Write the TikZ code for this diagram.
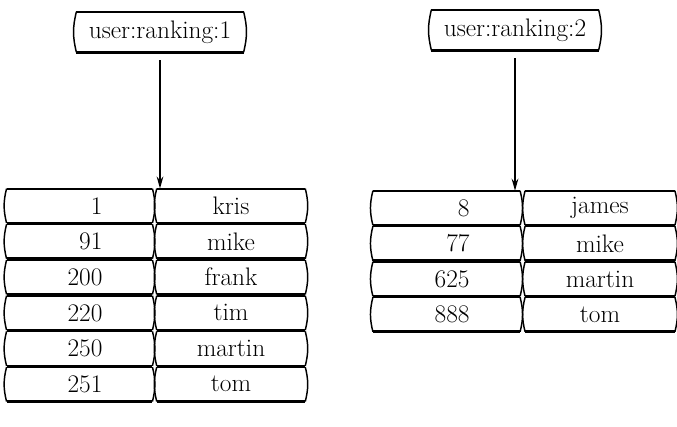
\documentclass[tikz,border=0pt]{standalone}
\usetikzlibrary{arrows.meta, positioning}

\tikzset{
  rough/.style={append after command={
      (\tikzlastnode.north west) edge[line width=1.5pt] (\tikzlastnode.north east)
      (\tikzlastnode.south west) edge[line width=1.9pt] (\tikzlastnode.south east)
      (\tikzlastnode.north west) edge[line width=1.1pt, bend right=14] (\tikzlastnode.south west)
      (\tikzlastnode.north east) edge[line width=1.1pt, bend left=14] (\tikzlastnode.south east)}},
  keybox/.style={rough, minimum width=125pt, minimum height=30pt, inner sep=0pt,
    font=\fontsize{19}{21}\selectfont},
  valcell/.style={rough, minimum width=109pt, minimum height=25.5pt, inner sep=0pt,
    text width=34.5pt, align=right, font=\fontsize{19}{22}\selectfont},
  namecell/.style={rough, minimum width=111pt, minimum height=25.5pt, inner sep=0pt,
    font=\fontsize{19}{22}\selectfont},
  pointer/.style={-{Stealth[length=9pt, width=5pt]}, line width=1.4pt, shorten <=6pt}
}

\begin{document}
\begin{tikzpicture}[x=0.75pt, y=0.75pt]
  \useasboundingbox (0,0) rectangle (677,427);

  % first sorted set
  \node[keybox] (key1) at (160,395) {user:ranking:1};
  \foreach \score/\member [count=\i] in {1/kris, 91/mike, 200/frank, 220/tim, 250/martin, 251/tom} {
    \node[valcell] (lv\i) at (79.5,221.2-35.7*\i+35.7) {\score};
    \node[namecell] (ln\i) at (231,221.2-35.7*\i+35.7) {\member};
  }
  \draw[pointer] (key1.south) -- (key1.south |- lv1.north);

  % second sorted set
  \node[keybox] (key2) at (515,397) {user:ranking:2};
  \foreach \score/\member [count=\i] in {8/james, 77/mike, 625/martin, 888/tom} {
    \node[valcell, minimum width=110pt] (rv\i) at (446.5,219-35.5*\i+35.5) {\score};
    \node[namecell, minimum width=112pt] (rn\i) at (600,219-35.5*\i+35.5) {\member};
  }
  \draw[pointer] (key2.south) -- (key2.south |- rv1.north);
\end{tikzpicture}
\end{document}
